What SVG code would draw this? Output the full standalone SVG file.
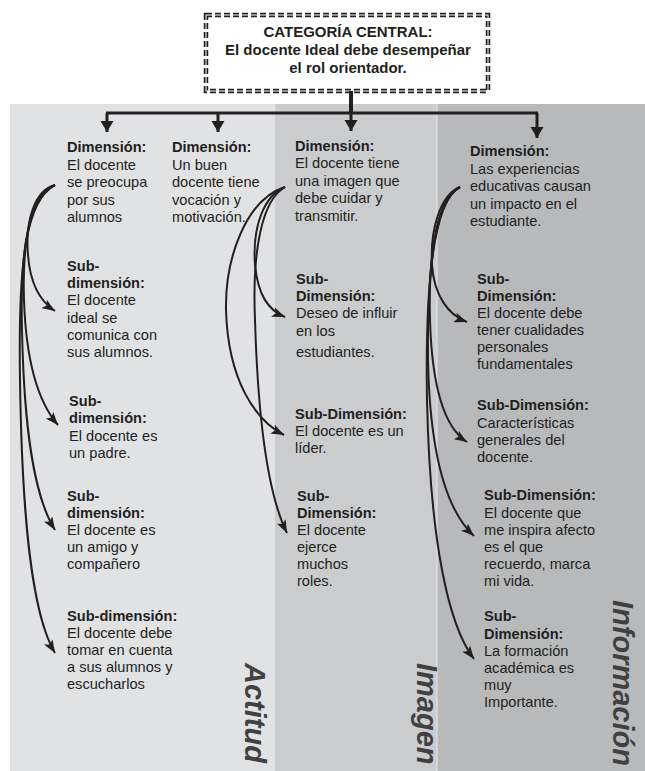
<svg xmlns="http://www.w3.org/2000/svg" width="645" height="771" viewBox="0 0 645 771">
<defs>
<style>
.t{font-family:"Liberation Sans",Arial,sans-serif;font-size:14.6px;fill:#231f20}
.b{font-weight:bold}
.bx{font-family:"Liberation Sans",Arial,sans-serif;font-size:15px;font-weight:bold;fill:#231f20;text-anchor:middle}
.vl{font-family:"Liberation Sans",Arial,sans-serif;font-size:29px;font-weight:bold;font-style:italic;fill:#414042}
.cv{fill:none;stroke:#231f20;stroke-width:2;marker-end:url(#ah)}
.tp{fill:none;stroke:#231f20;stroke-width:3}
.ta{fill:none;stroke:#231f20;stroke-width:3;marker-end:url(#ad)}
</style>
<marker id="ah" markerUnits="userSpaceOnUse" markerWidth="14" markerHeight="10" refX="13" refY="5" orient="auto">
<path d="M0,0 L13,5 L0,10 L3,5 z" fill="#231f20"/>
</marker>
<marker id="ad" markerUnits="userSpaceOnUse" markerWidth="14" markerHeight="14" refX="11" refY="6.5" orient="auto">
<path d="M0,0 L11,6.5 L0,13 z" fill="#231f20"/>
</marker>
</defs>
<rect width="645" height="771" fill="#ffffff"/>
<g id="panels">
<rect x="10" y="104" width="265" height="667" fill="#e1e2e4"/>
<rect x="275" y="104" width="162" height="667" fill="#cbccce"/>
<rect x="437" y="104" width="208" height="667" fill="#b8b9bb"/>
<line x1="437" y1="104" x2="437" y2="771" stroke="#e6e7e8" stroke-width="1"/>
</g>
<g id="labels">
<text class="vl" transform="translate(245,663) rotate(90)">Actitud</text>
<text class="vl" transform="translate(417,663) rotate(90)">Imagen</text>
<text class="vl" transform="translate(613,600) rotate(90)">Información</text>
</g>
<g id="central">
<rect x="206" y="15" width="282" height="76" fill="#ffffff" stroke="#231f20" stroke-width="4.5" stroke-dasharray="6 3"/>
<rect x="206" y="15" width="282" height="76" fill="none" stroke="#ffffff" stroke-width="1"/>
<text class="bx"><tspan x="348" y="37">CATEGORÍA CENTRAL:</tspan><tspan x="348" y="55">El docente Ideal debe desempeñar</tspan><tspan x="348" y="73">el rol orientador.</tspan></text>
</g>
<g id="connectors">
<line class="tp" x1="351" y1="91" x2="351" y2="113" style="stroke-width:4"/>
<line class="tp" x1="106" y1="113" x2="538" y2="113"/>
<line class="ta" x1="107" y1="113" x2="107" y2="132"/>
<line class="ta" x1="218" y1="113" x2="218" y2="132"/>
<line class="ta" x1="351" y1="113" x2="351" y2="131"/>
<line class="ta" x1="537" y1="113" x2="537" y2="138"/>
<path class="cv" d="M55,185 C35,190 25,220 28,255 C30,282 38,300 55,311"/>
<path class="cv" d="M55,185 C31,195 22,240 24,300 C26,360 38,402 58,425"/>
<path class="cv" d="M55,185 C28,196 20,250 22,330 C24,425 33,495 55,530"/>
<path class="cv" d="M55,185 C26,200 18,260 20,380 C22,520 32,615 55,653"/>
<path class="cv" d="M285,187 C265,195 252,225 255,265 C258,295 268,310 285,317"/>
<path class="cv" d="M285,187 C245,200 225,260 226,310 C228,380 255,420 284,435"/>
<path class="cv" d="M285,187 C262,200 252,250 255,320 C258,420 268,495 287,533"/>
<path class="cv" d="M460,187 C440,195 430,230 432,265 C434,295 448,315 467,322"/>
<path class="cv" d="M460,187 C438,197 428,250 430,320 C432,390 445,428 467,442"/>
<path class="cv" d="M460,187 C436,200 427,260 428,360 C430,460 448,512 474,536"/>
<path class="cv" d="M460,187 C434,200 425,280 427,400 C430,540 448,625 474,659"/>
</g>
<g id="dim1">
<text class="t"><tspan class="b" x="67" y="152">Dimensión:</tspan><tspan x="67" y="169.5">El docente</tspan><tspan x="67" y="187">se preocupa</tspan><tspan x="67" y="204.5">por sus</tspan><tspan x="67" y="222">alumnos</tspan></text>
</g>
<g id="dim2">
<text class="t"><tspan class="b" x="172" y="152">Dimensión:</tspan><tspan x="172" y="169.5">Un buen</tspan><tspan x="172" y="187">docente tiene</tspan><tspan x="172" y="204.5">vocación y</tspan><tspan x="172" y="222">motivación.</tspan></text>
</g>
<g id="dim3">
<text class="t"><tspan class="b" x="295" y="150.5">Dimensión:</tspan><tspan x="295" y="168">El docente tiene</tspan><tspan x="295" y="185.5">una imagen que</tspan><tspan x="295" y="203">debe cuidar y</tspan><tspan x="295" y="220.5">transmitir.</tspan></text>
</g>
<g id="dim4">
<text class="t"><tspan class="b" x="470" y="156">Dimensión:</tspan><tspan x="470" y="173.5">Las experiencias</tspan><tspan x="470" y="191">educativas causan</tspan><tspan x="470" y="208.5">un impacto en el</tspan><tspan x="470" y="226">estudiante.</tspan></text>
</g>
<g id="sub1a">
<text class="t"><tspan class="b" x="67" y="271">Sub-</tspan><tspan class="b" x="67" y="288.2">dimensión:</tspan><tspan x="67" y="305.4">El docente</tspan><tspan x="67" y="322.6">ideal se</tspan><tspan x="67" y="339.8">comunica con</tspan><tspan x="67" y="357">sus alumnos.</tspan></text>
</g>
<g id="sub1b">
<text class="t"><tspan class="b" x="69" y="406">Sub-</tspan><tspan class="b" x="69" y="423.3">dimensión:</tspan><tspan x="69" y="440.6">El docente es</tspan><tspan x="69" y="458">un padre.</tspan></text>
</g>
<g id="sub1c">
<text class="t"><tspan class="b" x="67" y="501">Sub-</tspan><tspan class="b" x="67" y="518">dimensión:</tspan><tspan x="67" y="535">El docente es</tspan><tspan x="67" y="552">un amigo y</tspan><tspan x="67" y="569">compañero</tspan></text>
</g>
<g id="sub1d">
<text class="t"><tspan class="b" x="67" y="621">Sub-dimensión:</tspan><tspan x="67" y="638">El docente debe</tspan><tspan x="67" y="655">tomar en cuenta</tspan><tspan x="67" y="672">a sus alumnos y</tspan><tspan x="67" y="689">escucharlos</tspan></text>
</g>
<g id="sub3a">
<text class="t"><tspan class="b" x="296" y="284">Sub-</tspan><tspan class="b" x="296" y="301.2">Dimensión:</tspan><tspan x="296" y="318.4">Deseo de influir</tspan><tspan x="296" y="335.6">en los</tspan><tspan x="296" y="357">estudiantes.</tspan></text>
</g>
<g id="sub3b">
<text class="t"><tspan class="b" x="295" y="419">Sub-Dimensión:</tspan><tspan x="295" y="436">El docente es un</tspan><tspan x="295" y="453">líder.</tspan></text>
</g>
<g id="sub3c">
<text class="t"><tspan class="b" x="297" y="501">Sub-</tspan><tspan class="b" x="297" y="518">Dimensión:</tspan><tspan x="297" y="535">El docente</tspan><tspan x="297" y="552">ejerce</tspan><tspan x="297" y="569">muchos</tspan><tspan x="297" y="586">roles.</tspan></text>
</g>
<g id="sub4a">
<text class="t"><tspan class="b" x="477" y="284">Sub-</tspan><tspan class="b" x="477" y="301">Dimensión:</tspan><tspan x="477" y="318">El docente debe</tspan><tspan x="477" y="335">tener cualidades</tspan><tspan x="477" y="352">personales</tspan><tspan x="477" y="369">fundamentales</tspan></text>
</g>
<g id="sub4b">
<text class="t"><tspan class="b" x="477" y="410">Sub-Dimensión:</tspan><tspan x="477" y="427.5">Características</tspan><tspan x="477" y="445">generales del</tspan><tspan x="477" y="462">docente.</tspan></text>
</g>
<g id="sub4c">
<text class="t"><tspan class="b" x="484" y="500">Sub-Dimensión:</tspan><tspan x="484" y="517.5">El docente que</tspan><tspan x="484" y="535">me inspira afecto</tspan><tspan x="484" y="552">es el que</tspan><tspan x="484" y="569">recuerdo, marca</tspan><tspan x="484" y="586">mi vida.</tspan></text>
</g>
<g id="sub4d">
<text class="t"><tspan class="b" x="484" y="621">Sub-</tspan><tspan class="b" x="484" y="638.5">Dimensión:</tspan><tspan x="484" y="655.5">La formación</tspan><tspan x="484" y="672.5">académica es</tspan><tspan x="484" y="689.5">muy</tspan><tspan x="484" y="706.5">Importante.</tspan></text>
</g>
</svg>
